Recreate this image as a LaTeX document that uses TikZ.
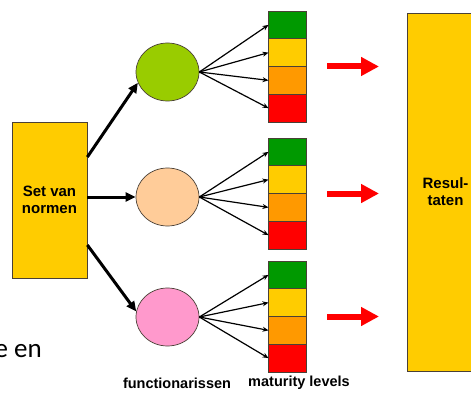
\documentclass[tikz,border=0pt]{standalone}
\usepackage{fontspec}
\setmainfont{Liberation Sans}
\newfontfamily\slidefont{Carlito}
\usetikzlibrary{arrows.meta, positioning, shapes.geometric}
\definecolor{boxyellow}{HTML}{FFCC00}
\definecolor{rolegreen}{HTML}{99CC00}
\definecolor{rolepeach}{HTML}{FFCC99}
\definecolor{rolepink}{HTML}{FF99CC}
\definecolor{lvgreen}{HTML}{009900}
\definecolor{lvyellow}{HTML}{FFCC00}
\definecolor{lvorange}{HTML}{FF9900}
\definecolor{lvred}{HTML}{FF0000}
\definecolor{edge}{HTML}{4A4036}
\tikzset{
  block/.style={
    rectangle,
    draw=edge,
    fill=boxyellow,
    line width=0.7pt,
    align=center,
    inner sep=0pt,
    font=\bfseries\fontsize{15}{17}\selectfont
  },
  role/.style={
    ellipse,
    draw=edge,
    line width=0.7pt,
    minimum width=63pt,
    minimum height=58pt,
    inner sep=0pt
  },
  lvl/.style={
    rectangle,
    draw=edge,
    line width=0.7pt,
    minimum width=38pt,
    minimum height=27.75pt,
    inner sep=0pt,
    outer sep=0pt
  },
  caption/.style={font=\bfseries\fontsize{14.5}{16}\selectfont, inner sep=0pt},
  arrow/.style={-{Triangle[length=10pt,width=9pt]}, line width=3pt},
  thinarrow/.style={-{Stealth[length=6pt,width=5pt]}, line width=1.2pt},
  redarrow/.style={-{Triangle[length=18pt,width=18pt]}, line width=6pt, draw=lvred}
}
\begin{document}
\begin{tikzpicture}[x=1pt, y=-1pt]
  \useasboundingbox (0,0) rectangle (471,393);
  \clip (0,0) rectangle (471,393);

  \node[block, minimum width=75pt, minimum height=156pt] (norms)
        at (49.5,200) {Set van\\normen};
  \node[block, minimum width=77pt, minimum height=358pt] (result)
        at (445.5,192) {Resul-\\taten};

  \foreach \g/\cy/\sy/\col in {1/72/11/rolegreen, 2/197/138/rolepeach, 3/317/261/rolepink} {
    \node[role, fill=\col] (func\g) at (167.5,\cy) {};
    \foreach \k/\c in {1/lvgreen, 2/lvyellow, 3/lvorange, 4/lvred} {
      \node[lvl, fill=\c] (lv\g\k) at (287.5,{\sy+13.875+27.75*(\k-1)}) {};
      \draw[thinarrow] (func\g.east) -- (lv\g\k.west);
    }
    \coordinate (rs\g) at (327,{\sy+55.5});
    \coordinate (re\g) at (379,{\sy+55.5});
    \draw[redarrow] (rs\g) -- (re\g);
  }

  \draw[arrow] ([yshift=43pt]norms.east) -- (func1.200);
  \draw[arrow] (norms.east |- func2) -- (func2.west);
  \draw[arrow] ([yshift=-45pt]norms.east) -- (func3.170);

  \node[caption] (funclabel) at (177,383) {functionarissen};
  \node[caption] (lvlabel) at (299,383) {maturity levels};

  \node[anchor=base east, inner sep=0pt, font=\slidefont\fontsize{27}{30}\selectfont]
        (cut) at (42,357) {e en};
\end{tikzpicture}
\end{document}
